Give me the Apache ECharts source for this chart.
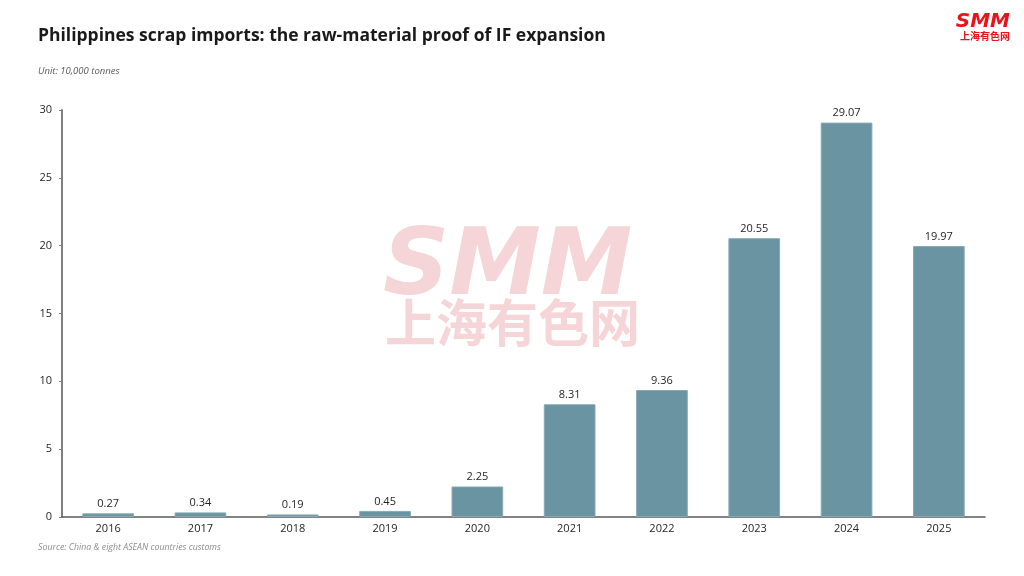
<!DOCTYPE html>
<html>
<head>
<meta charset="utf-8">
<script src="https://cdn.jsdelivr.net/npm/echarts@6/dist/echarts.min.js"></script>
<style>
  html, body { margin: 0; padding: 0; background: #fff; }
  #main { width: 1024px; height: 576px; }
</style>
</head>
<body>
<div id="main"></div>
<script>
// 年份
var years = ['2016', '2017', '2018', '2019', '2020', '2021', '2022', '2023', '2024', '2025'];
// 进口量（万吨）
var imports = [0.27, 0.34, 0.19, 0.45, 2.25, 8.31, 9.36, 20.55, 29.07, 19.97];
var yTicks = [0, 5, 10, 15, 20, 25, 30];

var myChart = echarts.init(document.getElementById('main'));
var options = {
    backgroundColor: '#fff',
    title: [{
        text: 'Philippines scrap imports: the raw-material proof of IF expansion',
        left: 33,
        top: 22,
        textStyle: {
            fontFamily: 'Open Sans',
            fontWeight: 'bold',
            fontSize: 17.5,
            color: '#1a1a1a'
        }
    }, {
        text: 'Unit: 10,000 tonnes',
        left: 33,
        top: 61,
        textStyle: {
            fontFamily: 'Open Sans',
            fontStyle: 'italic',
            fontWeight: 'normal',
            fontSize: 9.5,
            color: '#595959'
        }
    }, {
        text: 'Source: China & eight ASEAN countries customs',
        left: 33,
        top: 538,
        textStyle: {
            fontFamily: 'Open Sans',
            fontStyle: 'italic',
            fontWeight: 'normal',
            fontSize: 8.8,
            color: '#8c8c8c'
        }
    }],
    // 水印和右上角标志
    graphic: [{
        type: 'text',
        left: 383,
        top: 224,
        z: 0,
        style: {
            text: 'SMM',
            font: 'italic 900 92px "DejaVu Sans"',
            fill: '#f5d5d7'
        }
    }, {
        type: 'text',
        left: 385,
        top: 297,
        z: 0,
        style: {
            text: '上海有色网',
            font: 'bold 51px "Noto Sans CJK SC"',
            fill: '#f5d5d7'
        }
    }, {
        type: 'text',
        right: 14,
        top: 12,
        style: {
            text: 'SMM',
            font: 'italic 900 20px "DejaVu Sans"',
            fill: '#e8141b'
        }
    }, {
        type: 'text',
        right: 14,
        top: 31,
        style: {
            text: '上海有色网',
            font: 'bold 10px "Noto Sans CJK SC"',
            fill: '#e8141b'
        }
    }],
    grid: {
        left: 62,
        right: 39,
        top: 110,
        bottom: 59
    },
    xAxis: {
        type: 'category',
        data: years,
        axisLine: { lineStyle: { color: '#595959', width: 1.5 } },
        axisTick: { show: false },
        axisLabel: {
            color: '#262626',
            fontFamily: 'Open Sans',
            fontSize: 11,
            margin: 6
        }
    },
    yAxis: {
        type: 'value',
        min: yTicks[0],
        max: yTicks[yTicks.length - 1],
        interval: 5,
        splitLine: { show: false },
        axisLine: { show: true, lineStyle: { color: '#7f7f7f', width: 2 } },
        axisTick: { show: true, length: 3, lineStyle: { color: '#7f7f7f' } },
        axisLabel: {
            color: '#262626',
            fontFamily: 'Open Sans',
            fontSize: 11,
            margin: 10
        }
    },
    series: [{
        name: '进口量',
        type: 'bar',
        data: imports,
        barWidth: '56%',
        z: 3,
        itemStyle: {
            color: '#6a94a1',
            borderColor: '#86a9b4',
            borderWidth: 1
        },
        label: {
            show: true,
            position: 'top',
            distance: 4,
            color: '#262626',
            fontFamily: 'Open Sans',
            fontSize: 11
        }
    }]
};
myChart.setOption(options, true);
</script>
</body>
</html>
